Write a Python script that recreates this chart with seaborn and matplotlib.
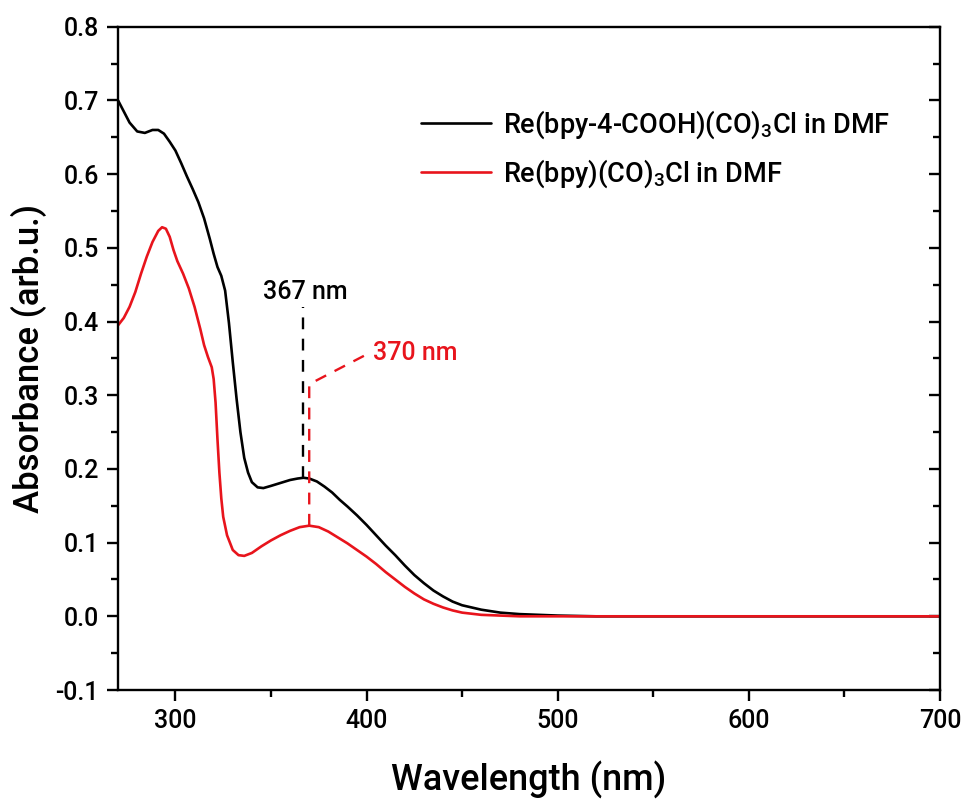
import numpy as np
import pandas as pd
import matplotlib
matplotlib.use("Agg")
import matplotlib.pyplot as plt
import seaborn as sns

# Wavelengths (nm) and absorbances
wl_black = [270, 273, 276, 280, 284, 288, 291, 294, 297, 300, 303, 306, 309, 312, 315,
            318, 320, 322, 324, 326, 328, 330, 332, 334, 336, 338, 340, 343, 346, 350,
            355, 360, 364, 367, 370, 374, 378, 382, 386, 390, 395, 400, 405, 410, 415,
            420, 425, 430, 435, 440, 445, 450, 460, 470, 480, 490, 500, 520, 550, 600,
            650, 700]
abs_black = [0.700, 0.685, 0.670, 0.658, 0.656, 0.660, 0.660, 0.655, 0.644, 0.632,
             0.615, 0.597, 0.580, 0.562, 0.540, 0.512, 0.492, 0.474, 0.462, 0.442,
             0.398, 0.345, 0.295, 0.250, 0.215, 0.195, 0.182, 0.175, 0.174, 0.177,
             0.181, 0.185, 0.187, 0.188, 0.187, 0.183, 0.176, 0.168, 0.158, 0.149,
             0.137, 0.124, 0.110, 0.096, 0.083, 0.069, 0.056, 0.045, 0.035, 0.027,
             0.020, 0.015, 0.009, 0.005, 0.003, 0.002, 0.001, 0.000, 0.000, 0.000,
             0.000, 0.000]

wl_red = [270, 273, 276, 279, 282, 285, 288, 291, 293, 295, 297, 299, 301, 304, 307,
          310, 313, 315, 317, 319, 320, 321, 322, 323, 324, 325, 327, 330, 333, 336,
          340, 345, 350, 355, 360, 365, 370, 375, 380, 385, 390, 395, 400, 405, 410,
          415, 420, 425, 430, 435, 440, 445, 450, 460, 470, 480, 500, 550, 600, 650,
          700]
abs_red = [0.395, 0.405, 0.420, 0.440, 0.465, 0.488, 0.508, 0.523, 0.528, 0.526,
           0.515, 0.497, 0.482, 0.465, 0.445, 0.420, 0.390, 0.368, 0.352, 0.338,
           0.322, 0.290, 0.240, 0.195, 0.160, 0.135, 0.110, 0.090, 0.083, 0.082,
           0.086, 0.095, 0.103, 0.110, 0.116, 0.121, 0.123, 0.121, 0.115, 0.107,
           0.099, 0.090, 0.081, 0.071, 0.060, 0.050, 0.040, 0.031, 0.023, 0.017,
           0.012, 0.008, 0.005, 0.002, 0.001, 0.000, 0.000, 0.000, 0.000, 0.000,
           0.000]

label_black = r"Re(bpy-4-COOH)(CO)$_3$Cl in DMF"
label_red = r"Re(bpy)(CO)$_3$Cl in DMF"

peak_black_x, peak_black_y, peak_black_top = 367, 0.188, 0.42
peak_red_x, peak_red_y, peak_red_top = 370, 0.123, 0.315
red_label_pt = (402, 0.358)

sns.set_style("ticks")
plt.rcParams['font.family'] = ['Roboto', 'DejaVu Sans']
plt.rcParams['font.weight'] = 'medium'
plt.rcParams['mathtext.default'] = 'regular'
plt.rcParams['text.color'] = 'black'
plt.rcParams['axes.labelcolor'] = 'black'
plt.rcParams['xtick.color'] = 'black'
plt.rcParams['ytick.color'] = 'black'

df = pd.concat([
    pd.DataFrame({"Wavelength": wl_black, "Absorbance": abs_black, "Sample": label_black}),
    pd.DataFrame({"Wavelength": wl_red, "Absorbance": abs_red, "Sample": label_red}),
])

fig = plt.figure(figsize=(9.68, 8), dpi=100)
ax = fig.add_axes([0.122, 0.1375, 0.849, 0.829])

sns.lineplot(data=df, x="Wavelength", y="Absorbance", hue="Sample",
             palette={label_black: "black", label_red: "#e8141c"},
             linewidth=1.9, ax=ax, sort=False)

# annotations
ax.plot([peak_black_x, peak_black_x], [peak_black_y, peak_black_top],
        color="black", ls=(0, (5, 4)), lw=1.7)
ax.text(peak_black_x + 1, peak_black_top + 0.004, "367 nm", color="black",
        fontsize=18, ha="center", va="bottom", fontweight="medium")
ax.plot([peak_red_x, peak_red_x, red_label_pt[0]],
        [peak_red_y, peak_red_top, red_label_pt[1]],
        color="#e8141c", ls=(0, (5, 4)), lw=1.7)
ax.text(red_label_pt[0] + 1.5, red_label_pt[1], "370 nm", color="#e8141c",
        fontsize=18, ha="left", va="center", fontweight="medium")

ax.set_xlim(270, 700)
ax.set_ylim(-0.1, 0.8)
ax.set_xticks([300, 400, 500, 600, 700])
ax.set_xticks(np.arange(300, 701, 50), minor=True)
yt = np.round(np.arange(-0.1, 0.81, 0.1), 1)
ax.set_yticks(yt)
ax.set_yticks(np.arange(-0.1, 0.81, 0.05), minor=True)
ax.set_yticklabels([f"{v:.1f}" for v in yt])

for s in ax.spines.values():
    s.set_visible(True)
    s.set_linewidth(1.7)
    s.set_color("black")

ax.tick_params(axis="both", which="major", labelsize=18, width=1.7, length=8,
               direction="out", pad=6)
ax.tick_params(axis="both", which="minor", width=1.7, length=5, direction="out")
ax.tick_params(axis="y", which="both", right=True, labelright=False)
ax.tick_params(axis="x", which="both", top=False)
for lab in ax.get_xticklabels() + ax.get_yticklabels():
    lab.set_fontweight("medium")

# right ticks point inward
for t in ax.yaxis.get_major_ticks() + ax.yaxis.get_minor_ticks():
    t.tick2line.set_marker(matplotlib.lines.TICKLEFT)

ax.set_xlabel("Wavelength (nm)", fontsize=26, labelpad=20, fontweight="medium")
ax.set_ylabel("Absorbance (arb.u.)", fontsize=25, labelpad=6, fontweight="medium")

leg = ax.legend(loc="upper left", bbox_to_anchor=(0.355, 0.893), frameon=False,
                fontsize=19.5, handlelength=2.6, labelspacing=0.6, handletextpad=0.45,
                borderaxespad=0)
for line in leg.get_lines():
    line.set_linewidth(1.9)
for t in leg.get_texts():
    t.set_fontweight("medium")

fig.savefig("out.png", dpi=100)
